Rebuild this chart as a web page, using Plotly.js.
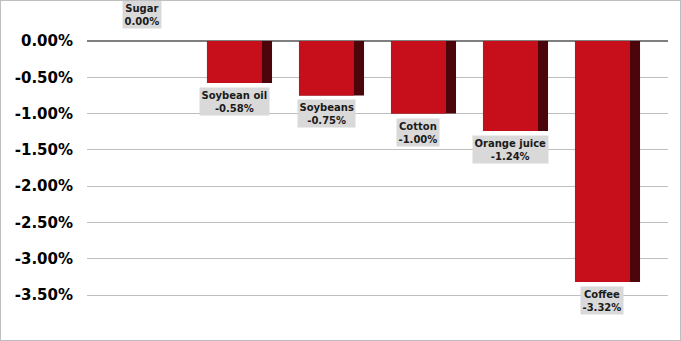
<!DOCTYPE html>
<html>
<head>
<meta charset="utf-8">
<script src="https://cdn.plot.ly/plotly-3.0.1.min.js"></script>
<style>
html,body{margin:0;padding:0;background:#fff;}
#chart{width:681px;height:341px;box-sizing:border-box;border:1px solid #BFBFBF;}
</style>
</head>
<body>
<div id="chart"></div>
<script>
const categories = ["Sugar", "Soybean oil", "Soybeans", "Cotton", "Orange juice", "Coffee"];
const values = [0.00, -0.58, -0.75, -1.00, -1.24, -3.32];
const tickVals = [0, -0.5, -1, -1.5, -2, -2.5, -3, -3.5];
const tickText = ["0.00%", "-0.50%", "-1.00%", "-1.50%", "-2.00%", "-2.50%", "-3.00%", "-3.50%"];

const idx = categories.map((c, i) => i);
const frontW = 0.598, sideW = 0.109;

const side = {
  type: 'bar', x: idx, y: values,
  width: idx.map(() => frontW + sideW),
  offset: idx.map(() => -frontW / 2),
  marker: {color: '#4B050B', line: {width: 0}},
  hoverinfo: 'skip', showlegend: false
};
const front = {
  type: 'bar', x: idx, y: values,
  width: idx.map(() => frontW),
  offset: idx.map(() => -frontW / 2),
  marker: {color: '#C70F1B', line: {width: 0}},
  showlegend: false
};

const annotations = categories.map((c, i) => {
  const v = values[i];
  const txt = '<b>' + c + '<br>' + v.toFixed(2) + '%</b>';
  return {
    x: i, y: v, xref: 'x', yref: 'y', text: txt, showarrow: false,
    yanchor: v === 0 ? 'bottom' : 'top',
    yshift: v === 0 ? 12 : -4,
    bgcolor: '#D9D9D9', borderpad: 1.5,
    font: {family: 'DejaVu Sans, sans-serif', size: 10, color: '#1A1A1A'},
    align: 'center'
  };
});

const layout = {
  width: 679, height: 339,
  margin: {l: 86, r: 12, t: 7, b: 10},
  paper_bgcolor: '#fff', plot_bgcolor: '#fff',
  barmode: 'overlay',
  xaxis: {
    type: 'linear', range: [-0.603, 5.712],
    showgrid: false, zeroline: false, showticklabels: false, ticks: '', showline: false
  },
  yaxis: {
    range: [-3.982, 0.455],
    tickvals: tickVals, ticktext: tickText,
    tickfont: {family: 'DejaVu Sans, sans-serif', size: 15, color: '#000', weight: 'bold'},
    ticklabelstandoff: 13,
    showgrid: true, gridcolor: '#BFBFBF', gridwidth: 1,
    zeroline: true, zerolinecolor: '#7F7F7F', zerolinewidth: 1.5,
    showline: false, ticks: ''
  },
  annotations: annotations
};

Plotly.newPlot('chart', [side, front], layout, {displayModeBar: false, staticPlot: true});
</script>
</body>
</html>
